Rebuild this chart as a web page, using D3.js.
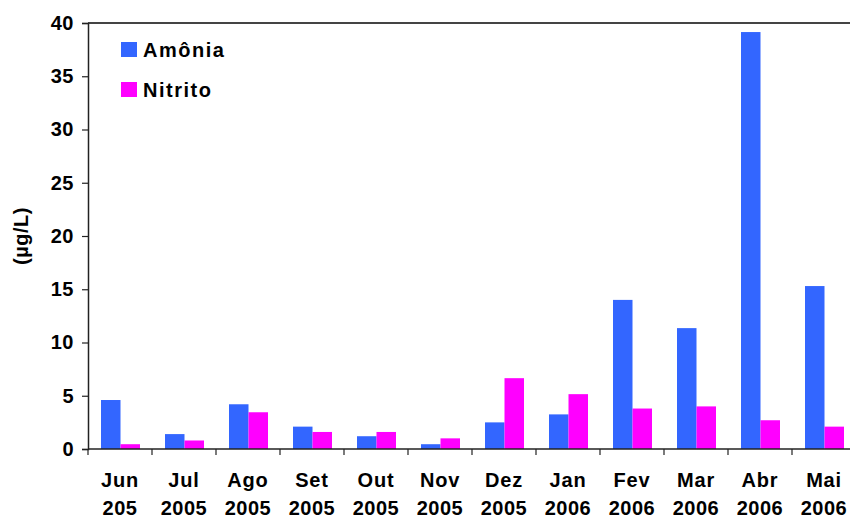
<!DOCTYPE html>
<html>
<head>
<meta charset="utf-8">
<script src="https://cdn.jsdelivr.net/npm/d3@7"></script>
<style>
  html, body { margin: 0; padding: 0; background: #fff; }
  svg text { font-family: "Liberation Sans", Arial, sans-serif; font-weight: bold; fill: #000; }
</style>
</head>
<body>
<svg id="chart" width="850" height="520"></svg>
<script>
const months = ["Jun", "Jul", "Ago", "Set", "Out", "Nov", "Dez", "Jan", "Fev", "Mar", "Abr", "Mai"];
const years  = ["205", "2005", "2005", "2005", "2005", "2005", "2005", "2006", "2006", "2006", "2006", "2006"];
const amonia  = [4.6, 1.4, 4.2, 2.1, 1.2, 0.45, 2.5, 3.25, 14.0, 11.35, 39.15, 15.3];
const nitrito = [0.45, 0.8, 3.45, 1.6, 1.6, 1.0, 6.65, 5.15, 3.8, 4.0, 2.7, 2.1];
const seriesNames = ["Amônia", "Nitrito"];
const seriesColors = ["#3366FF", "#FF00FF"];
const yTicks = [0, 5, 10, 15, 20, 25, 30, 35, 40];

const svg = d3.select("#chart");
const mLeft = 88, mRight = 856, mTop = 23, mBottom = 449;

const x = d3.scaleBand().domain(d3.range(months.length)).range([mLeft, mRight]).padding(0);
const xs = d3.scaleBand().domain([0, 1]).range([13, 52]).padding(0);
const y = d3.scaleLinear().domain([0, 40]).range([mBottom, mTop]);

const series = [amonia, nitrito];

// bars
series.forEach((vals, si) => {
  svg.append("g").selectAll("rect").data(vals).join("rect")
    .attr("x", (d, i) => x(i) + xs(si))
    .attr("width", xs.bandwidth())
    .attr("y", d => y(d))
    .attr("height", d => y(0) - y(d))
    .attr("fill", seriesColors[si]);
});

// top border
svg.append("line").attr("x1", mLeft).attr("x2", 850).attr("y1", mTop).attr("y2", mTop)
  .attr("stroke", "#444").attr("stroke-width", 2);

// y axis
const yAxis = d3.axisLeft(y).tickValues(yTicks).tickSize(6).tickPadding(8);
const gy = svg.append("g").attr("transform", `translate(${mLeft},0)`).call(yAxis);
gy.select(".domain").attr("stroke", "#222").attr("stroke-width", 1.5);
gy.selectAll(".tick line").attr("stroke", "#222").attr("stroke-width", 1.2);
gy.selectAll(".tick text").style("font-size", "20px").style("letter-spacing", "0.5px")
  .style("font-family", "'Liberation Sans', Arial, sans-serif").style("font-weight", "bold").attr("fill", "#000");

// x axis line
svg.append("line").attr("x1", mLeft).attr("x2", 850).attr("y1", mBottom).attr("y2", mBottom)
  .attr("stroke", "#222").attr("stroke-width", 1.5);
// x ticks at boundaries
const bounds = d3.range(months.length + 1).map(i => i < months.length ? x(i) : x(months.length - 1) + x.bandwidth());
svg.append("g").selectAll("line").data(bounds.filter(b => b <= 850)).join("line")
  .attr("x1", d => d).attr("x2", d => d).attr("y1", mBottom).attr("y2", mBottom + 6)
  .attr("stroke", "#222").attr("stroke-width", 1.2);

// x labels
const gx = svg.append("g");
months.forEach((m, i) => {
  const cx = x(i) + x.bandwidth() / 2;
  gx.append("text").attr("x", cx).attr("y", 487).attr("text-anchor", "middle")
    .style("font-size", "20px").style("letter-spacing", "0.8px").text(m);
  gx.append("text").attr("x", cx).attr("y", 515).attr("text-anchor", "middle")
    .style("font-size", "20px").style("letter-spacing", "0.5px").text(years[i]);
});

// y title
svg.append("text").attr("transform", "translate(28,236) rotate(-90)").attr("text-anchor", "middle")
  .style("font-size", "20px").style("letter-spacing", "0.5px").text("(µg/L)");

// legend
seriesNames.forEach((n, i) => {
  const ly = 42 + i * 40;
  svg.append("rect").attr("x", 121).attr("y", ly).attr("width", 16).attr("height", 15).attr("fill", seriesColors[i]);
  svg.append("text").attr("x", 143).attr("y", ly + 15).style("font-size", "20px").style("letter-spacing", "1.5px").text(n);
});
</script>
</body>
</html>
